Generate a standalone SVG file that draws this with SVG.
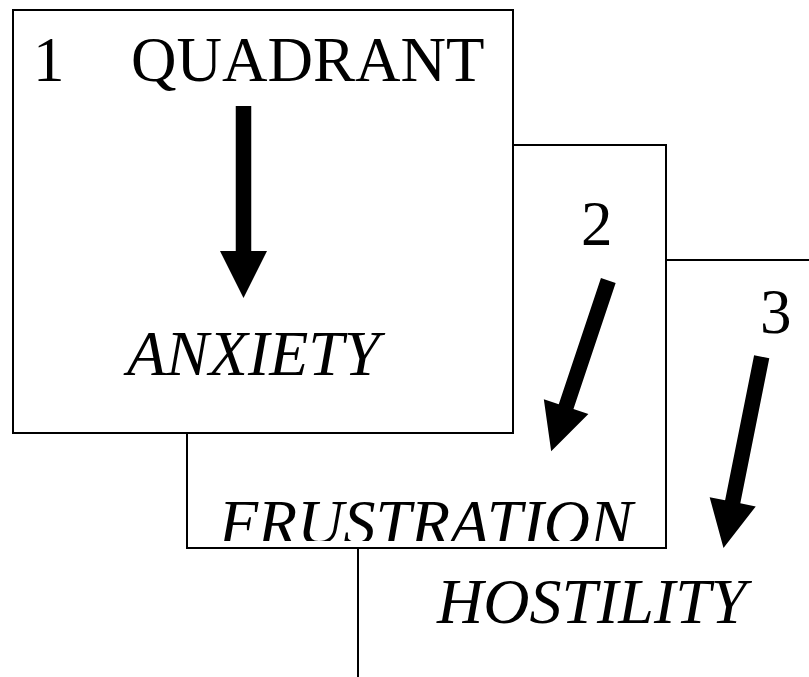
<svg xmlns="http://www.w3.org/2000/svg" width="809" height="677" viewBox="0 0 809 677">
  <style>
    .box { fill: #ffffff; stroke: #000000; stroke-width: 2; }
    .lbl { font-family: "Liberation Serif", "Times New Roman", serif; font-size: 63px; fill: #000000; }
    .it { font-style: italic; font-size: 64px; }
    .arrow { fill: #000000; stroke: none; }
  </style>
  <defs>
    <clipPath id="box2clip">
      <rect x="187" y="145" width="479" height="396"/>
    </clipPath>
  </defs>
  <rect width="809" height="677" fill="#ffffff"/>

  <!-- Quadrant 3 (back sheet, runs off the page) -->
  <g id="quadrant3">
    <rect class="box" x="358" y="260" width="480" height="440"/>
    <text class="lbl" x="760" y="333">3</text>
    <text class="lbl it" x="437" y="623">HOSTILITY</text>
  </g>

  <!-- Quadrant 2 -->
  <g id="quadrant2">
    <rect class="box" x="187" y="145" width="479" height="403"/>
    <text class="lbl" x="581" y="245">2</text>
    <text class="lbl it" x="219" y="544" clip-path="url(#box2clip)">FRUSTRATION</text>
  </g>

  <!-- Quadrant 1 (front sheet) -->
  <g id="quadrant1">
    <rect class="box" x="13" y="10" width="500" height="423"/>
    <text class="lbl" x="33" y="81">1</text>
    <text class="lbl" x="131" y="81">QUADRANT</text>
    <text class="lbl it" x="127" y="375">ANXIETY</text>
  </g>

  <!-- Block arrows pointing down to each feeling -->
  <g id="connectors">
    <polygon class="arrow" transform="translate(243.5,106)" points="-7.75,0 7.75,0 7.75,145 23.5,145 0,192 -23.5,145 -7.75,145"/>
    <polygon class="arrow" transform="translate(608.3,280.5) rotate(18.5)" points="-7.75,0 7.75,0 7.75,133 23.5,133 0,180 -23.5,133 -7.75,133"/>
    <polygon class="arrow" transform="translate(761.7,356.7) rotate(11.3)" points="-7.75,0 7.75,0 7.75,148 23.5,148 0,195 -23.5,148 -7.75,148"/>
  </g>
</svg>
